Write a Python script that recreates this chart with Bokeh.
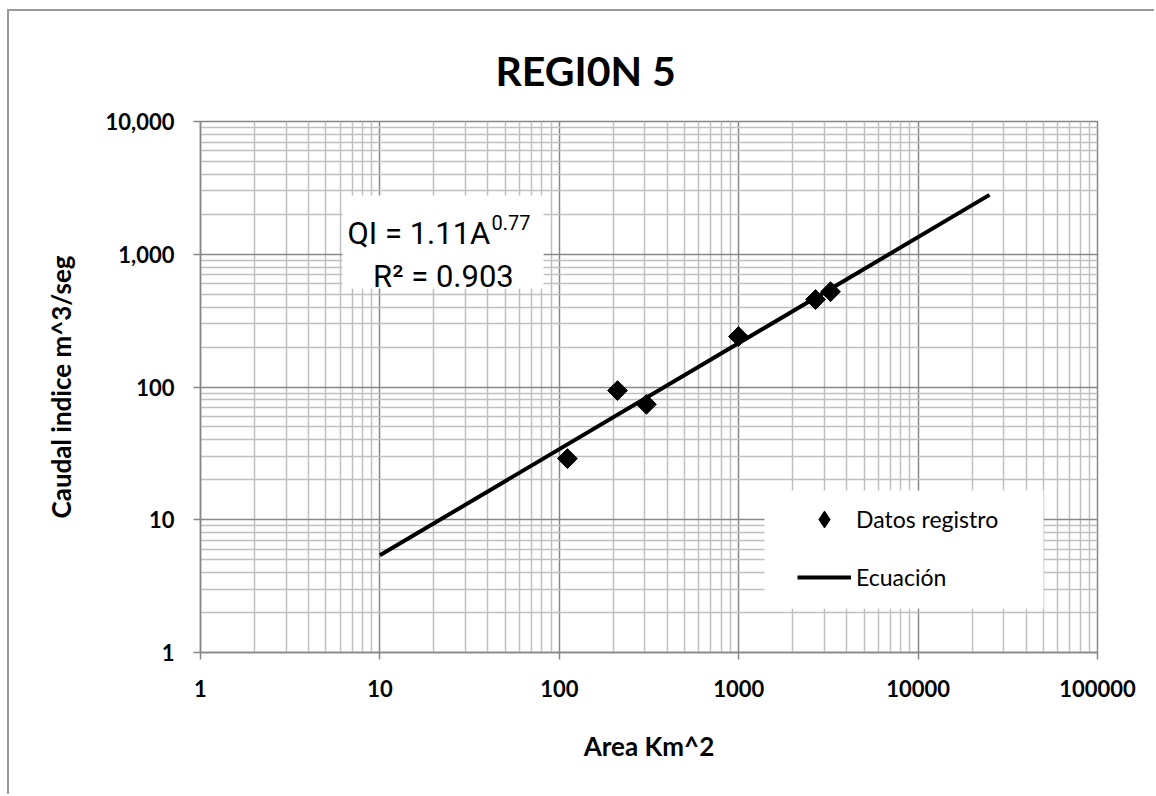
from bokeh.plotting import figure
from bokeh.models import (FixedTicker, Legend, LegendItem, BoxAnnotation, Label, Title,
                          Range1d)
from bokeh.embed import file_html
from bokeh.resources import INLINE

# ---- data ----
area_km2 = [111, 211, 306, 997, 2680, 3250]
caudal_indice = [28.9, 94, 74, 240, 456, 522]
eq_area = [10, 25000]
eq_caudal = [5.4, 2800]

x_ticks = [1, 10, 100, 1000, 10000, 100000]
x_tick_labels = ["1", "10", "100", "1000", "10000", "100000"]
y_ticks = [1, 10, 100, 1000, 10000]
y_tick_labels = ["1", "10", "100", "1,000", "10,000"]

title_text = "REGI0N 5"
x_title = "Area Km^2"
y_title = "Caudal indice m^3/seg"
series_points = "Datos registro"
series_line = "Ecuación"
eq_main = "QI = 1.11A"
eq_sup = "0.77"
eq_r2 = "R² = 0.903"

MAJOR = "#878787"
MINOR = "#c0c0c0"

p = figure(width=1147, height=785, x_axis_type="log", y_axis_type="log",
           x_range=Range1d(1, 100000), y_range=Range1d(1, 10000),
           output_backend="svg", toolbar_location=None,
           min_border_left=191, min_border_right=59, min_border_top=110,
           min_border_bottom=144)
p.styles = {"margin-left": "7px", "margin-top": "9px",
            "border-top": "2px solid #9a9a9a", "border-left": "2px solid #9a9a9a"}
p.background_fill_color = "white"
p.border_fill_color = "white"
p.outline_line_color = MAJOR
p.outline_line_width = 1.5

minor_x = [d * m for d in x_ticks[:-1] for m in range(2, 10)]
minor_y = [d * m for d in y_ticks[:-1] for m in range(2, 10)]
p.xaxis.ticker = FixedTicker(ticks=x_ticks, minor_ticks=minor_x)
p.yaxis.ticker = FixedTicker(ticks=y_ticks, minor_ticks=minor_y)
p.xaxis.major_label_overrides = {t: l for t, l in zip(x_ticks, x_tick_labels)}
p.yaxis.major_label_overrides = {t: l for t, l in zip(y_ticks, y_tick_labels)}

for ax in (p.xaxis, p.yaxis):
    ax.axis_line_color = MAJOR
    ax.axis_line_width = 1.5
    ax.major_tick_line_color = MAJOR
    ax.major_tick_line_width = 1.5
    ax.major_tick_out = 7
    ax.major_tick_in = 0
    ax.minor_tick_line_color = None
    ax.major_label_text_font = "Lato"
    ax.major_label_text_font_style = "bold"
    ax.major_label_text_font_size = "22px"
    ax.major_label_text_color = "black"
    ax.axis_label_text_font = "Lato"
    ax.axis_label_text_font_style = "bold"
    ax.axis_label_text_font_size = "26px"
    ax.axis_label_text_color = "black"

p.xaxis.axis_label = x_title
p.yaxis.axis_label = y_title
p.xaxis.major_label_standoff = 20
p.yaxis.major_label_standoff = 19
p.xaxis.axis_label_standoff = 30
p.yaxis.axis_label_standoff = 26

for g in (p.xgrid, p.ygrid):
    g.grid_line_color = MAJOR
    g.grid_line_width = 1.5
    g.minor_grid_line_color = MINOR
    g.minor_grid_line_width = 1.5

# chart title (centred over the whole chart area, not the plot frame)
p.title = Title(text=title_text, text_font="Lato", text_font_style="bold",
                text_font_size="41px", align="left", offset=295, standoff=54,
                text_color="black")

line_r = p.line(eq_area, eq_caudal, line_color="black", line_width=4)
pts_r = p.scatter(area_km2, caudal_indice, marker="square", angle=0.785398,
                  size=14, fill_color="black", line_color="black")
# legend-only swatch (same data, not drawn) so the legend shows a diamond
leg_pts = p.scatter(area_km2, caudal_indice, marker="diamond",
                    fill_color="black", line_color="black", visible=False)

# equation box
p.add_layout(BoxAnnotation(left=6.19, right=81.7, bottom=552, top=2773,
                           fill_color="white", fill_alpha=1.0, line_color=None))
p.add_layout(Label(x=6.60, y=1432, text=eq_main, text_font="Roboto",
                   text_font_size="31px", text_align="left", text_baseline="alphabetic",
                   text_color="black"))
p.add_layout(Label(x=41.9, y=1741, text=eq_sup, text_font="Roboto",
                   text_font_size="20px", text_align="left", text_baseline="alphabetic",
                   text_color="black"))
p.add_layout(Label(x=22.6, y=680, text=eq_r2, text_font="Roboto",
                   text_font_size="31px", text_align="center", text_baseline="alphabetic",
                   text_color="black"))

# legend box
p.add_layout(BoxAnnotation(left=1393, right=50000, bottom=2.145, top=16.6,
                           fill_color="white", fill_alpha=1.0, line_color=None))
legend = Legend(items=[LegendItem(label=series_points, renderers=[leg_pts]),
                       LegendItem(label=series_line, renderers=[line_r])],
                location=(597, 54), orientation="vertical",
                glyph_width=54, glyph_height=42, label_height=42, label_standoff=5,
                spacing=16, padding=10, margin=0,
                label_text_font="Lato", label_text_font_size="23px",
                label_text_color="black",
                background_fill_alpha=0, border_line_color=None)
p.add_layout(legend, "center")

open("out.html", "w").write(file_html(p, INLINE))
